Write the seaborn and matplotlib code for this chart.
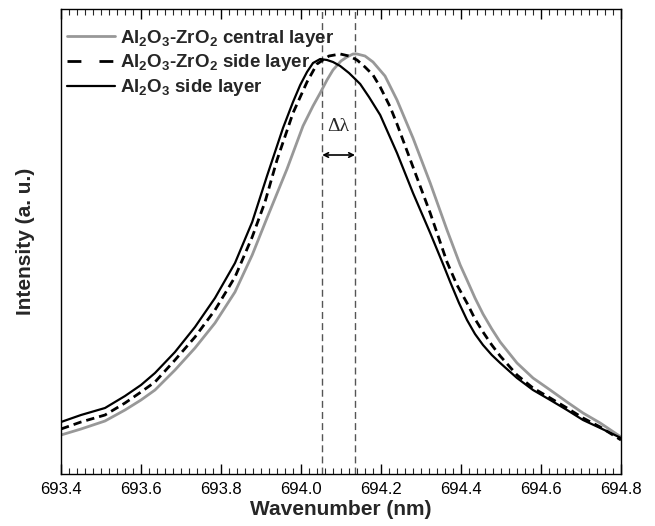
import matplotlib
matplotlib.use("Agg")
import matplotlib.pyplot as plt
from matplotlib.lines import Line2D
import seaborn as sns

# ---- data ----
central_x = [693.400, 693.450, 693.510, 693.560, 693.600, 693.635, 693.685, 693.735, 693.785,
             693.835, 693.878, 693.915, 693.965, 694.005, 694.030, 694.048, 694.065, 694.080,
             694.100, 694.115, 694.130, 694.140, 694.160, 694.180, 694.210, 694.240, 694.280,
             694.323, 694.365, 694.398, 694.415, 694.435, 694.455, 694.477, 694.498, 694.540,
             694.580, 694.623, 694.665, 694.705, 694.748, 694.800]
central_y = [39, 45, 53, 64, 74, 84, 104, 126, 151, 182, 219, 256, 305, 348, 368, 381, 394, 404,
             413, 417, 420, 420, 418, 412, 398, 374, 336, 291, 244, 209, 194, 176, 160, 145, 132,
             111, 96, 84, 72, 61, 51, 37]

zr_side_x = [693.400, 693.450, 693.510, 693.560, 693.600, 693.635, 693.685, 693.735, 693.785,
             693.835, 693.878, 693.910, 693.940, 693.980, 694.015, 694.040, 694.070, 694.098,
             694.120, 694.140, 694.160, 694.180, 694.198, 694.223, 694.240, 694.280, 694.323,
             694.365, 694.390, 694.415, 694.435, 694.455, 694.477, 694.498, 694.540, 694.580,
             694.623, 694.665, 694.705, 694.748, 694.800]
zr_side_y = [45, 52, 59, 71, 82, 92, 114, 137, 164, 197, 237, 272, 314, 361, 392, 410, 418, 420,
             418, 414, 407, 399, 387, 367, 350, 307, 261, 212, 189, 171, 155, 142, 129, 118, 99,
             86, 76, 66, 56, 47, 34]

al_side_x = [693.400, 693.450, 693.510, 693.560, 693.600, 693.635, 693.685, 693.735, 693.785,
             693.835, 693.878, 693.915, 693.955, 693.980, 693.998, 694.015, 694.030, 694.048,
             694.065, 694.080, 694.098, 694.120, 694.148, 694.170, 694.198, 694.240, 694.280,
             694.323, 694.355, 694.373, 694.395, 694.415, 694.435, 694.455, 694.477, 694.498,
             694.540, 694.580, 694.623, 694.665, 694.705, 694.748, 694.800]
al_side_y = [52, 59, 66, 78, 89, 101, 122, 147, 176, 211, 252, 298, 346, 372, 389, 402, 411, 415,
             414, 412, 408, 401, 390, 377, 359, 321, 281, 241, 210, 192, 171, 154, 140, 129, 119,
             111, 96, 84, 74, 64, 54, 46, 36]

labels = [r"$\mathrm{Al_2O_3}$-$\mathrm{ZrO_2}$ central layer",
          r"$\mathrm{Al_2O_3}$-$\mathrm{ZrO_2}$ side layer",
          r"$\mathrm{Al_2O_3}$ side layer"]
peak_lines = [694.053, 694.135]
arrow_level = 319
xticks = [693.4, 693.6, 693.8, 694.0, 694.2, 694.4, 694.6, 694.8]

# ---- style ----
sns.set_theme(style="white")
plt.rcParams["font.family"] = ["Liberation Sans", "DejaVu Sans"]
plt.rcParams["mathtext.fontset"] = "custom"
plt.rcParams["mathtext.rm"] = "Liberation Sans:bold"
plt.rcParams["mathtext.it"] = "Liberation Sans:bold"
plt.rcParams["mathtext.bf"] = "Liberation Sans:bold"

fig = plt.figure(figsize=(6.55, 5.26), dpi=100)
ax = fig.add_axes([61 / 655, 1 - 474 / 526, 560 / 655, 465 / 526])

gray = "#989898"
sns.lineplot(x=central_x, y=central_y, ax=ax, color=gray, lw=2.0, sort=False, estimator=None)
sns.lineplot(x=zr_side_x, y=zr_side_y, ax=ax, color="black", lw=2.0, sort=False,
             estimator=None, linestyle=(0, (3, 1.8)))
sns.lineplot(x=al_side_x, y=al_side_y, ax=ax, color="black", lw=1.6, sort=False, estimator=None)

for xv in peak_lines:
    ax.axvline(xv, color="#555555", lw=1.0, linestyle=(0, (5, 3)), zorder=1)

ax.annotate("", xy=(peak_lines[1], arrow_level), xytext=(peak_lines[0], arrow_level),
            arrowprops=dict(arrowstyle="<->", lw=1.2, color="black",
                            mutation_scale=8, shrinkA=0, shrinkB=0))
ax.text(sum(peak_lines) / 2, arrow_level + 20, "Δλ", ha="center", va="bottom", fontsize=14,
        family=["Liberation Serif", "DejaVu Serif"])

ax.set_xlim(693.4, 694.8)
ax.set_ylim(0, 465)
ax.set_xticks(xticks)
ax.set_xticklabels([f"{t:.1f}" for t in xticks])
ax.set_xticks([693.4 + 0.02 * i for i in range(71)], minor=True)
ax.set_yticks([])
ax.tick_params(axis="x", which="major", direction="in", length=7, width=1,
               top=True, bottom=True, labelsize=12, pad=6, colors="black")
ax.tick_params(axis="x", which="minor", direction="in", length=4, width=0.8,
               top=True, bottom=True)
for s in ax.spines.values():
    s.set_color("black")
    s.set_linewidth(1.0)
    s.set_visible(True)

ax.set_xlabel("Wavenumber (nm)", fontsize=15, fontweight="bold", labelpad=2)
ax.set_ylabel("Intensity (a. u.)", fontsize=15, fontweight="bold", labelpad=19)

handles = [Line2D([], [], color=gray, lw=2.0),
           Line2D([], [], color="black", lw=2.0, linestyle=(0, (5, 6.5))),
           Line2D([], [], color="black", lw=1.6)]
leg = ax.legend(handles, labels, loc="upper left", bbox_to_anchor=(0.0, 0.972),
                frameon=False, prop={"weight": "bold", "size": 13.5},
                handlelength=2.6, handletextpad=0.27, labelspacing=0.2,
                borderaxespad=0.0, borderpad=0.3)

fig.savefig("out.png", dpi=100)
